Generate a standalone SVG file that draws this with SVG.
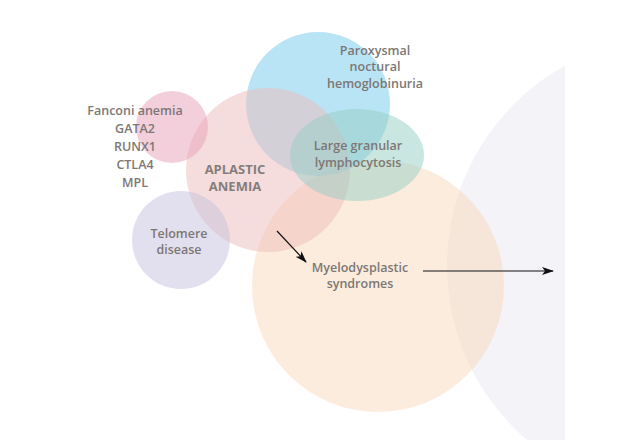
<svg xmlns="http://www.w3.org/2000/svg" width="640" height="440" viewBox="0 0 640 440">
<style>
.t{font-family:"Open Sans","Liberation Sans",sans-serif;font-size:12.5px;font-weight:600;fill:#7d7775;text-anchor:middle}
.b{font-weight:700;font-size:13px;fill:#857d7a}
.c{opacity:0.5}
</style>
<defs>
<clipPath id="clipR"><rect x="0" y="0" width="565" height="440"/></clipPath>
<marker id="ah" viewBox="0 0 12 8" refX="11" refY="4" markerWidth="12" markerHeight="8" markerUnits="userSpaceOnUse" orient="auto">
<path d="M0,0 L12,4 L0,8 L3,4 Z" fill="#111"/>
</marker>
</defs>
<rect width="640" height="440" fill="#fff"/>
<g id="outcome"><circle cx="676" cy="266" r="229" fill="#f3f3f8" clip-path="url(#clipR)"/></g>
<g id="mds"><circle class="c" cx="378" cy="286" r="126" fill="#fad9bc"/></g>
<g id="pnh"><circle class="c" cx="318" cy="104" r="72" fill="#72caeb"/></g>
<g id="aa"><circle class="c" cx="268" cy="170" r="82" fill="#eebcbc"/></g>
<g id="fanconi"><circle class="c" cx="172" cy="127" r="36" fill="#e8a0b9"/></g>
<g id="telomere"><circle class="c" cx="181" cy="240" r="49" fill="#c5c1dd"/></g>
<g id="lgl"><ellipse class="c" cx="357" cy="155" rx="67" ry="46" fill="#96cdc3"/></g>
<g id="labels">
<text class="t" x="135" y="115">Fanconi anemia</text>
<text class="t" x="135" y="133">GATA2</text>
<text class="t" x="135" y="151">RUNX1</text>
<text class="t" x="135" y="169">CTLA4</text>
<text class="t" x="135" y="187">MPL</text>
<text class="t b" x="235" y="174">APLASTIC</text>
<text class="t b" x="235" y="191">ANEMIA</text>
<text class="t" x="179" y="238">Telomere</text>
<text class="t" x="179" y="254">disease</text>
<text class="t" x="375" y="55">Paroxysmal</text>
<text class="t" x="375" y="71">noctural</text>
<text class="t" x="375" y="88">hemoglobinuria</text>
<text class="t" x="358" y="150">Large granular</text>
<text class="t" x="358" y="167">lymphocytosis</text>
<text class="t" x="360" y="272">Myelodysplastic</text>
<text class="t" x="360" y="288">syndromes</text>
</g>
<g id="connectors" stroke="#111" stroke-width="1.2" fill="none">
<line x1="277" y1="231" x2="306" y2="262" marker-end="url(#ah)"/>
<line x1="423" y1="271" x2="553" y2="271" marker-end="url(#ah)"/>
</g>
</svg>
